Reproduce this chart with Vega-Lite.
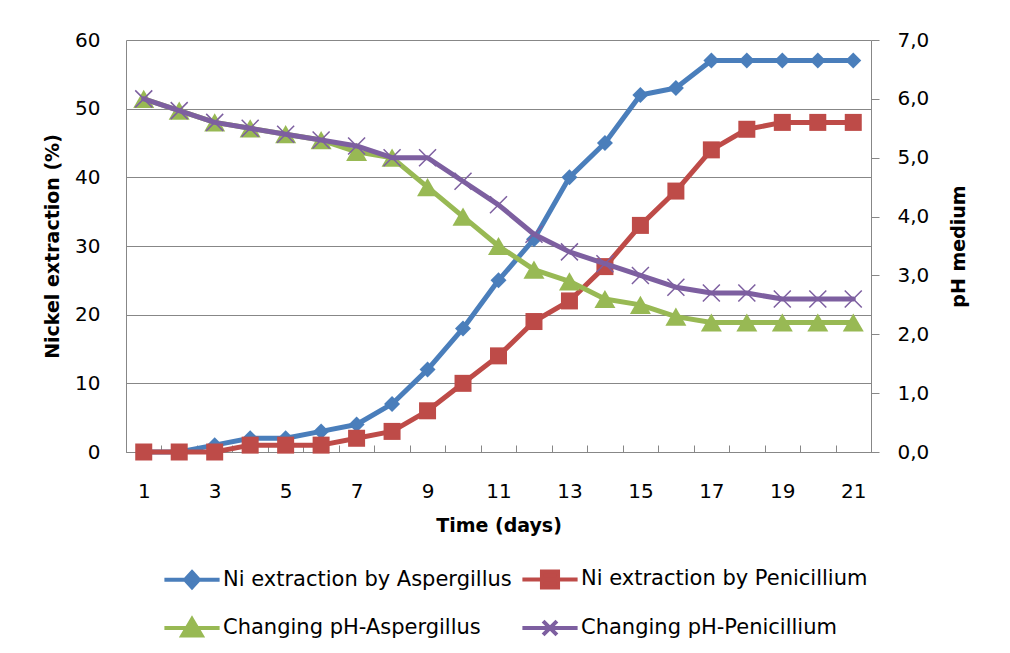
{
  "$schema": "https://vega.github.io/schema/vega-lite/v6.json",
  "width": 745,
  "height": 412,
  "autosize": {"type": "none"},
  "padding": {"left": 126, "top": 40, "right": 139, "bottom": 201},
  "background": "white",
  "config": {
    "view": {"stroke": null},
    "font": "DejaVu Sans",
    "axis": {
      "labelFont": "DejaVu Sans",
      "labelFontSize": 20,
      "labelColor": "#000000",
      "titleFont": "DejaVu Sans",
      "titleFontSize": 19,
      "titleFontWeight": "bold",
      "titleColor": "#000000",
      "domainColor": "#878787",
      "tickColor": "#878787",
      "gridColor": "#878787",
      "domainWidth": 1,
      "tickWidth": 1,
      "gridWidth": 1
    }
  },
  "data": {
    "values": [
      {"d": 1, "s": "Ni extraction by Aspergillus", "v": 0},
      {"d": 2, "s": "Ni extraction by Aspergillus", "v": 0},
      {"d": 3, "s": "Ni extraction by Aspergillus", "v": 1},
      {"d": 4, "s": "Ni extraction by Aspergillus", "v": 2},
      {"d": 5, "s": "Ni extraction by Aspergillus", "v": 2},
      {"d": 6, "s": "Ni extraction by Aspergillus", "v": 3},
      {"d": 7, "s": "Ni extraction by Aspergillus", "v": 4},
      {"d": 8, "s": "Ni extraction by Aspergillus", "v": 7},
      {"d": 9, "s": "Ni extraction by Aspergillus", "v": 12},
      {"d": 10, "s": "Ni extraction by Aspergillus", "v": 18},
      {"d": 11, "s": "Ni extraction by Aspergillus", "v": 25},
      {"d": 12, "s": "Ni extraction by Aspergillus", "v": 31},
      {"d": 13, "s": "Ni extraction by Aspergillus", "v": 40},
      {"d": 14, "s": "Ni extraction by Aspergillus", "v": 45},
      {"d": 15, "s": "Ni extraction by Aspergillus", "v": 52},
      {"d": 16, "s": "Ni extraction by Aspergillus", "v": 53},
      {"d": 17, "s": "Ni extraction by Aspergillus", "v": 57},
      {"d": 18, "s": "Ni extraction by Aspergillus", "v": 57},
      {"d": 19, "s": "Ni extraction by Aspergillus", "v": 57},
      {"d": 20, "s": "Ni extraction by Aspergillus", "v": 57},
      {"d": 21, "s": "Ni extraction by Aspergillus", "v": 57},
      {"d": 1, "s": "Ni extraction by Penicillium", "v": 0},
      {"d": 2, "s": "Ni extraction by Penicillium", "v": 0},
      {"d": 3, "s": "Ni extraction by Penicillium", "v": 0},
      {"d": 4, "s": "Ni extraction by Penicillium", "v": 1},
      {"d": 5, "s": "Ni extraction by Penicillium", "v": 1},
      {"d": 6, "s": "Ni extraction by Penicillium", "v": 1},
      {"d": 7, "s": "Ni extraction by Penicillium", "v": 2},
      {"d": 8, "s": "Ni extraction by Penicillium", "v": 3},
      {"d": 9, "s": "Ni extraction by Penicillium", "v": 6},
      {"d": 10, "s": "Ni extraction by Penicillium", "v": 10},
      {"d": 11, "s": "Ni extraction by Penicillium", "v": 14},
      {"d": 12, "s": "Ni extraction by Penicillium", "v": 19},
      {"d": 13, "s": "Ni extraction by Penicillium", "v": 22},
      {"d": 14, "s": "Ni extraction by Penicillium", "v": 27},
      {"d": 15, "s": "Ni extraction by Penicillium", "v": 33},
      {"d": 16, "s": "Ni extraction by Penicillium", "v": 38},
      {"d": 17, "s": "Ni extraction by Penicillium", "v": 44},
      {"d": 18, "s": "Ni extraction by Penicillium", "v": 47},
      {"d": 19, "s": "Ni extraction by Penicillium", "v": 48},
      {"d": 20, "s": "Ni extraction by Penicillium", "v": 48},
      {"d": 21, "s": "Ni extraction by Penicillium", "v": 48},
      {"d": 1, "s": "Changing pH-Aspergillus", "v": 6.0},
      {"d": 2, "s": "Changing pH-Aspergillus", "v": 5.8},
      {"d": 3, "s": "Changing pH-Aspergillus", "v": 5.6},
      {"d": 4, "s": "Changing pH-Aspergillus", "v": 5.5},
      {"d": 5, "s": "Changing pH-Aspergillus", "v": 5.4},
      {"d": 6, "s": "Changing pH-Aspergillus", "v": 5.3},
      {"d": 7, "s": "Changing pH-Aspergillus", "v": 5.1},
      {"d": 8, "s": "Changing pH-Aspergillus", "v": 5.0},
      {"d": 9, "s": "Changing pH-Aspergillus", "v": 4.5},
      {"d": 10, "s": "Changing pH-Aspergillus", "v": 4.0},
      {"d": 11, "s": "Changing pH-Aspergillus", "v": 3.5},
      {"d": 12, "s": "Changing pH-Aspergillus", "v": 3.1},
      {"d": 13, "s": "Changing pH-Aspergillus", "v": 2.9},
      {"d": 14, "s": "Changing pH-Aspergillus", "v": 2.6},
      {"d": 15, "s": "Changing pH-Aspergillus", "v": 2.5},
      {"d": 16, "s": "Changing pH-Aspergillus", "v": 2.3},
      {"d": 17, "s": "Changing pH-Aspergillus", "v": 2.2},
      {"d": 18, "s": "Changing pH-Aspergillus", "v": 2.2},
      {"d": 19, "s": "Changing pH-Aspergillus", "v": 2.2},
      {"d": 20, "s": "Changing pH-Aspergillus", "v": 2.2},
      {"d": 21, "s": "Changing pH-Aspergillus", "v": 2.2},
      {"d": 1, "s": "Changing pH-Penicillium", "v": 6.0},
      {"d": 2, "s": "Changing pH-Penicillium", "v": 5.8},
      {"d": 3, "s": "Changing pH-Penicillium", "v": 5.6},
      {"d": 4, "s": "Changing pH-Penicillium", "v": 5.5},
      {"d": 5, "s": "Changing pH-Penicillium", "v": 5.4},
      {"d": 6, "s": "Changing pH-Penicillium", "v": 5.3},
      {"d": 7, "s": "Changing pH-Penicillium", "v": 5.2},
      {"d": 8, "s": "Changing pH-Penicillium", "v": 5.0},
      {"d": 9, "s": "Changing pH-Penicillium", "v": 5.0},
      {"d": 10, "s": "Changing pH-Penicillium", "v": 4.6},
      {"d": 11, "s": "Changing pH-Penicillium", "v": 4.2},
      {"d": 12, "s": "Changing pH-Penicillium", "v": 3.7},
      {"d": 13, "s": "Changing pH-Penicillium", "v": 3.4},
      {"d": 14, "s": "Changing pH-Penicillium", "v": 3.2},
      {"d": 15, "s": "Changing pH-Penicillium", "v": 3.0},
      {"d": 16, "s": "Changing pH-Penicillium", "v": 2.8},
      {"d": 17, "s": "Changing pH-Penicillium", "v": 2.7},
      {"d": 18, "s": "Changing pH-Penicillium", "v": 2.7},
      {"d": 19, "s": "Changing pH-Penicillium", "v": 2.6},
      {"d": 20, "s": "Changing pH-Penicillium", "v": 2.6},
      {"d": 21, "s": "Changing pH-Penicillium", "v": 2.6}
    ]
  },
  "encoding": {
    "x": {
      "field": "d",
      "type": "ordinal",
      "scale": {"type": "band", "paddingInner": 0, "paddingOuter": 0},
      "axis": {
        "title": "Time (days)",
        "labelAngle": 0,
        "tickBand": "extent",
        "labelExpr": "datum.value % 2 == 1 ? datum.label : ''",
        "tickSize": -7,
        "labelPadding": 36,
        "titleY": 73,
        "titleBaseline": "middle",
        "grid": false
      }
    },
    "color": {
      "field": "s",
      "type": "nominal",
      "scale": {
        "domain": ["Ni extraction by Aspergillus", "Ni extraction by Penicillium", "Changing pH-Aspergillus", "Changing pH-Penicillium"],
        "range": ["#4A7EBB", "#BE4B48", "#98B954", "#7D5FA0"]
      },
      "legend": {
        "title": null,
        "orient": "none",
        "legendX": 41,
        "legendY": 514,
        "columns": 2,
        "direction": "horizontal",
        "labelFont": "DejaVu Sans",
        "labelFontSize": 21,
        "labelColor": "#000000",
        "labelLimit": 500,
        "labelOffset": 6,
        "symbolSize": 2116,
        "symbolStrokeWidth": 4,
        "columnPadding": 2,
        "rowPadding": 7,
        "encode": {
          "symbols": {
            "update": {
              "shape": {"signal": "datum.value == 'Ni extraction by Aspergillus' ? 'M-1.2,0H1.2M0,-0.33L0.3,0L0,0.33L-0.3,0Z' : datum.value == 'Ni extraction by Penicillium' ? 'M-1.2,0H1.2M-0.35,-0.35H0.35V0.35H-0.35Z' : datum.value == 'Changing pH-Aspergillus' ? 'M-1.2,0H1.2M0,-0.38L0.42,0.33H-0.42Z' : 'M-1.2,0H1.2M-0.3,-0.3L0.3,0.3M-0.3,0.3L0.3,-0.3'"},
              "stroke": {"signal": "scale('color', datum.value)"},
              "fill": {"signal": "scale('color', datum.value)"},
              "strokeWidth": {"value": 4},
              "opacity": {"value": 1},
              "fillOpacity": {"value": 1},
              "strokeOpacity": {"value": 1}
            }
          }
        }
      }
    }
  },
  "layer": [
    {
      "encoding": {
        "y": {
          "field": "v",
          "type": "quantitative",
          "scale": {"domain": [0, 60], "nice": false, "zero": true},
          "axis": {
            "orient": "left",
            "values": [0, 10, 20, 30, 40, 50, 60],
            "title": "Nickel extraction (%)",
            "grid": true,
            "ticks": false,
            "labelPadding": 26,
            "titleX": -74,
            "titleY": 206,
            "titleAngle": -90,
            "titleBaseline": "middle",
            "titleAlign": "center"
          }
        }
      },
      "layer": [
        {
          "transform": [{"filter": "datum.s == 'Ni extraction by Aspergillus'"}],
          "mark": {"type": "line", "strokeWidth": 5, "strokeCap": "round", "strokeJoin": "round"}
        },
        {
          "transform": [{"filter": "datum.s == 'Ni extraction by Aspergillus'"}],
          "mark": {"type": "point", "shape": "diamond", "filled": true, "size": 256, "opacity": 1}
        },
        {
          "transform": [{"filter": "datum.s == 'Ni extraction by Penicillium'"}],
          "mark": {"type": "line", "strokeWidth": 5, "strokeCap": "round", "strokeJoin": "round"}
        },
        {
          "transform": [{"filter": "datum.s == 'Ni extraction by Penicillium'"}],
          "mark": {"type": "point", "shape": "square", "filled": true, "size": 289, "opacity": 1}
        }
      ]
    },
    {
      "encoding": {
        "y": {
          "field": "v",
          "type": "quantitative",
          "scale": {"domain": [0, 7], "nice": false, "zero": true},
          "axis": {
            "orient": "right",
            "values": [0, 1, 2, 3, 4, 5, 6, 7],
            "labelExpr": "replace(format(datum.value, '.1f'), '.', ',')",
            "title": "pH medium",
            "grid": false,
            "tickSize": 8,
            "labelPadding": 18,
            "titleX": 87,
            "titleY": 206,
            "titleAngle": -90,
            "titleBaseline": "middle",
            "titleAlign": "center"
          }
        }
      },
      "layer": [
        {
          "transform": [{"filter": "datum.s == 'Changing pH-Aspergillus'"}],
          "mark": {"type": "line", "strokeWidth": 5, "strokeCap": "round", "strokeJoin": "round"}
        },
        {
          "transform": [{"filter": "datum.s == 'Changing pH-Aspergillus'"}],
          "mark": {"type": "point", "shape": "triangle-up", "filled": true, "size": 441, "opacity": 1}
        },
        {
          "transform": [{"filter": "datum.s == 'Changing pH-Penicillium'"}],
          "mark": {"type": "line", "strokeWidth": 5, "strokeCap": "round", "strokeJoin": "round"}
        },
        {
          "transform": [{"filter": "datum.s == 'Changing pH-Penicillium'"}],
          "mark": {"type": "point", "shape": "M-1,-1L1,1M-1,1L1,-1", "filled": false, "size": 289, "strokeWidth": 1.5, "opacity": 1}
        }
      ]
    }
  ],
  "resolve": {"scale": {"y": "independent"}}
}
